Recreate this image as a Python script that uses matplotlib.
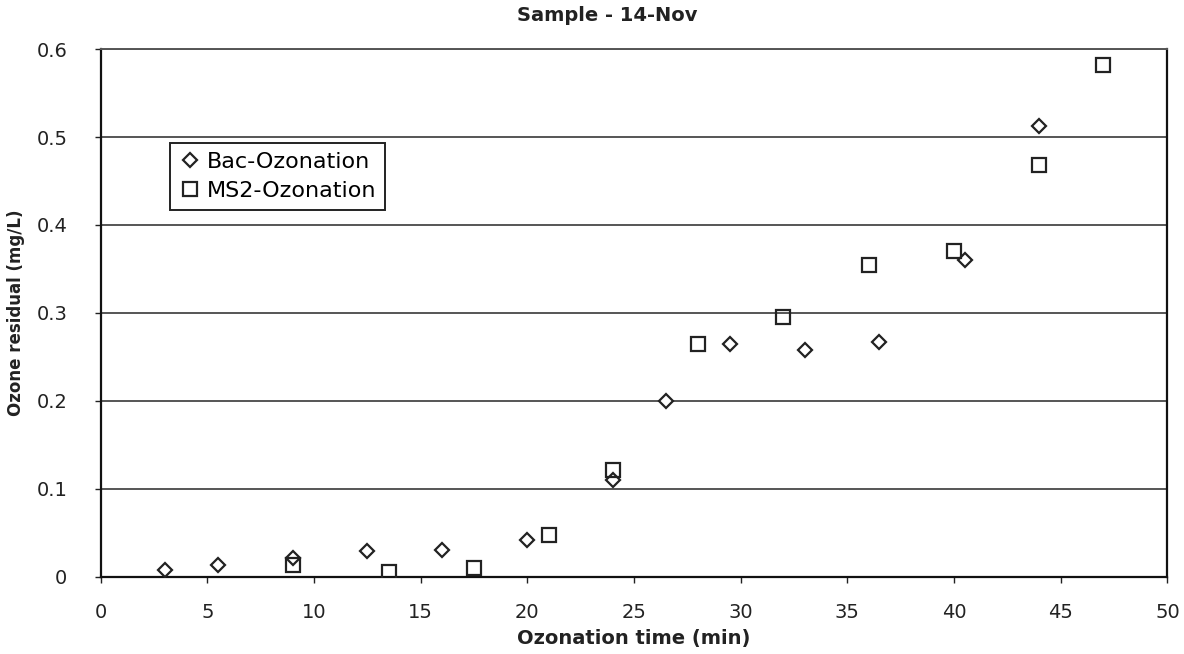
import matplotlib.pyplot as plt

# Ozone residual readings, sample of 14-Nov
bac_time = [3, 5.5, 9, 12.5, 16, 20, 24, 26.5, 29.5, 33, 36.5, 40.5, 44]
bac_resid = [0.008, 0.013, 0.021, 0.029, 0.031, 0.042, 0.110, 0.200, 0.265, 0.258, 0.267, 0.360, 0.512]

ms2_time = [9, 13.5, 17.5, 21, 24, 28, 32, 36, 40, 44, 47]
ms2_resid = [0.014, 0.005, 0.010, 0.047, 0.122, 0.265, 0.295, 0.355, 0.370, 0.468, 0.582]

x_ticks = [0, 5, 10, 15, 20, 25, 30, 35, 40, 45, 50]
y_ticks = [0, 0.1, 0.2, 0.3, 0.4, 0.5, 0.6]
y_labels = ["0", "0.1", "0.2", "0.3", "0.4", "0.5", "0.6"]

plt.rcParams['font.family'] = ['DejaVu Sans']

fig = plt.figure(figsize=(11.84, 6.54), dpi=100)
ax = fig.add_axes([0.085, 0.118, 0.901, 0.807])

ax.plot(bac_time, bac_resid, linestyle='none', marker='D', markersize=7.5,
        markerfacecolor='white', markeredgecolor='#222222', markeredgewidth=1.6,
        label='Bac-Ozonation', zorder=3)
ax.plot(ms2_time, ms2_resid, linestyle='none', marker='s', markersize=10,
        markerfacecolor='none', markeredgecolor='#222222', markeredgewidth=1.6,
        label='MS2-Ozonation', zorder=3)

ax.set_xlim(0, 50)
ax.set_ylim(0, 0.6)
ax.set_xticks(x_ticks)
ax.set_yticks(y_ticks)
ax.set_yticklabels(y_labels)
ax.tick_params(axis='both', labelsize=14, colors='#222222', direction='out',
               length=4, width=1)
ax.tick_params(axis='x', pad=15)
ax.tick_params(axis='y', pad=20)

ax.grid(axis='y', color='#555555', linewidth=1.4)
ax.set_axisbelow(True)
for side in ['left', 'bottom', 'right']:
    ax.spines[side].set_color('#111111')
    ax.spines[side].set_linewidth(1.6)
ax.spines['top'].set_color('#555555')
ax.spines['top'].set_linewidth(1.4)

ax.set_title('Sample - 14-Nov', fontsize=14, fontweight='bold', pad=20, x=0.475, color='#222222')
ax.set_xlabel('Ozonation time (min)', fontsize=14, fontweight='bold', labelpad=5, color='#222222')
ax.set_ylabel('Ozone residual (mg/L)', fontsize=12, fontweight='bold', labelpad=8, color='#222222')

leg = ax.legend(loc='upper left', bbox_to_anchor=(0.065, 0.822), fontsize=16,
                frameon=True, fancybox=False, framealpha=1, edgecolor='#222222',
                handletextpad=0.25, handlelength=1.0, borderpad=0.4, labelspacing=0.4,
                borderaxespad=0)
leg.get_frame().set_linewidth(1.4)

plt.savefig('out.png', dpi=100)
plt.close()
